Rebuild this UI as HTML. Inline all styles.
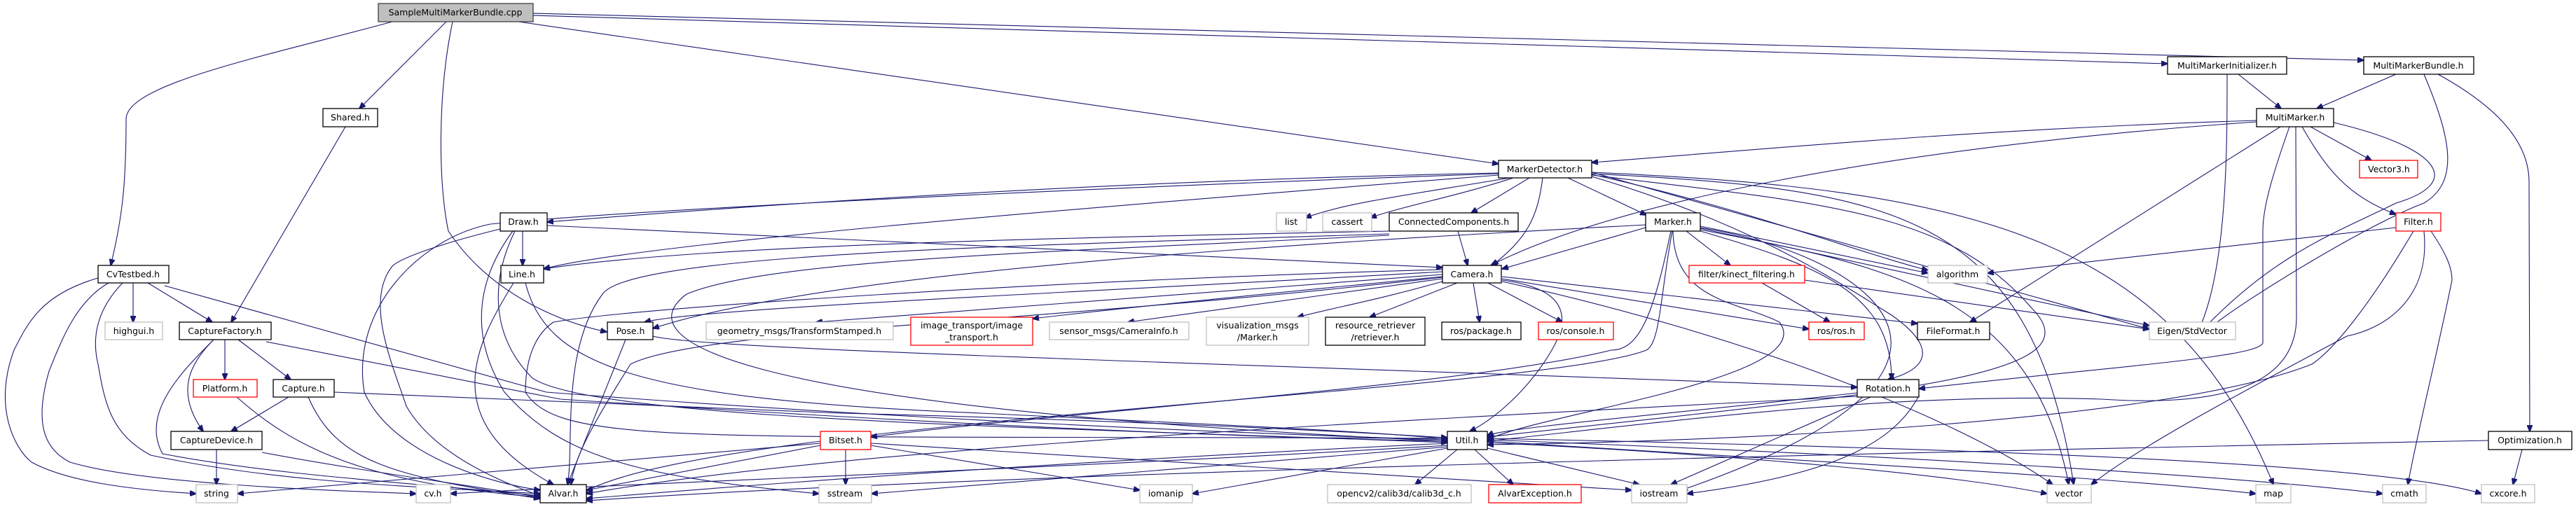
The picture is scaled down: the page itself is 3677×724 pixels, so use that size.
<!DOCTYPE html>
<html><head><meta charset="utf-8"><style>
html,body{margin:0;padding:0;background:#fff}
svg{display:block}
text{font-family:"DejaVu Sans","Liberation Sans",sans-serif;font-size:12.5px;fill:#000;text-anchor:middle}
.b{fill:#fff;stroke:#000;stroke-width:1.3}
.g{fill:#fff;stroke:#bfbfbf;stroke-width:1.3}
.r{fill:#fff;stroke:#ff0000;stroke-width:1.3}
.e path{fill:none;stroke:#191970;stroke-width:1.1}
</style></head><body>
<svg width="3677" height="724" viewBox="0 0 3677 724" xmlns="http://www.w3.org/2000/svg">
<defs><marker id="a" markerWidth="10" markerHeight="8" refX="9" refY="4" orient="auto" markerUnits="userSpaceOnUse"><path d="M0,0 L10,4 L0,8 z" fill="#191970" stroke="#191970"/></marker></defs>
<g class="e" marker-end="url(#a)">
<!-- Sample -->
<path marker-end="url(#a)" d="M560,31 C380,80 180,120 180,170 C180,260 175,310 158,379"/>
<path marker-end="url(#a)" d="M637,31 L513,155"/>
<path marker-end="url(#a)" d="M646,31 C625,130 625,260 640,330 C700,420 800,460 866,474"/>
<path marker-end="url(#a)" d="M740,31 L2139,234"/>
<path marker-end="url(#a)" d="M761,22 L3094,91"/>
<path marker-end="url(#a)" d="M761,19 L3374,86"/>
<!-- Shared -->
<path marker-end="url(#a)" d="M493,181 L330,460"/>
<!-- CvTestbed -->
<path marker-end="url(#a)" d="M190,404 L190,460"/>
<path marker-end="url(#a)" d="M211,404 L303,460"/>
<path marker-end="url(#a)" d="M140,397 C60,420 40,460 20,500 C-10,580 20,640 45,660 C100,690 200,700 280,705"/>
<path marker-end="url(#a)" d="M155,404 C110,430 90,480 70,530 C50,600 60,640 100,660 C200,690 450,700 594,705"/>
<path marker-end="url(#a)" d="M175,404 C140,440 130,480 140,520 C150,580 160,620 215,650 C400,690 600,695 771,705"/>
<path marker-end="url(#a)" d="M235,408 L780,560 C1300,600 1800,620 2066,628"/>
<!-- CaptureFactory -->
<path marker-end="url(#a)" d="M321,485 L321,542"/>
<path marker-end="url(#a)" d="M340,485 L415,542"/>
<path marker-end="url(#a)" d="M305,485 C270,520 250,560 290,616"/>
<path marker-end="url(#a)" d="M305,485 C260,530 200,590 232,648 C400,680 600,690 771,708"/>
<path marker-end="url(#a)" d="M380,488 L800,570 C1400,610 1800,625 2066,630"/>
<!-- Platform -->
<path marker-end="url(#a)" d="M338,567 C420,640 520,690 771,710"/>
<!-- Capture -->
<path marker-end="url(#a)" d="M412,567 L330,616"/>
<path marker-end="url(#a)" d="M440,567 C480,660 560,680 771,712"/>
<path marker-end="url(#a)" d="M477,560 L1200,590 C1600,600 1900,615 2066,625"/>
<!-- CaptureDevice -->
<path marker-end="url(#a)" d="M309,642 L309,692"/>
<path marker-end="url(#a)" d="M374,646 C500,670 650,690 771,710"/>
<!-- Draw -->
<path marker-end="url(#a)" d="M746,330 L746,379"/>
<path marker-end="url(#a)" d="M781,322 L2059,382"/>
<path marker-end="url(#a)" d="M714,327 C620,350 570,370 560,380 C520,430 560,520 580,580 C620,650 720,690 771,708"/>
<path marker-end="url(#a)" d="M732,330 C680,400 670,480 720,560 C800,650 900,680 1169,705"/>
<path marker-end="url(#a)" d="M735,330 C700,400 700,480 760,540 C850,600 1500,610 2066,632"/>
<!-- Line -->
<path marker-end="url(#a)" d="M733,404 C680,490 620,600 790,692"/>
<path marker-end="url(#a)" d="M750,404 C780,520 900,570 1400,590 C1700,605 1950,615 2066,627"/>
<!-- Pose -->
<path marker-end="url(#a)" d="M893,485 L810,692"/>
<path marker-end="url(#a)" d="M932,480 C1000,500 1800,520 2651,553"/>
<!-- MarkerDetector -->
<path marker-end="url(#a)" d="M2155,254 C2000,280 1920,290 1863,311"/>
<path marker-end="url(#a)" d="M2160,254 C2080,280 2000,295 1956,311"/>
<path marker-end="url(#a)" d="M2183,254 L2100,304"/>
<path marker-end="url(#a)" d="M2238,254 L2350,307"/>
<path marker-end="url(#a)" d="M2202,254 C2195,310 2180,340 2130,379"/>
<path marker-end="url(#a)" d="M2139,247 C1500,260 1000,300 781,317"/>
<path marker-end="url(#a)" d="M2139,248 C1500,270 900,300 700,320 C600,340 500,440 520,560 C560,650 700,690 771,700"/>
<path marker-end="url(#a)" d="M2139,250 C1500,300 900,350 776,384"/>
<path marker-end="url(#a)" d="M2272,249 C2500,300 2650,360 2752,386"/>
<path marker-end="url(#a)" d="M2272,246 L3068,470"/>
<path marker-end="url(#a)" d="M2272,252 C2500,320 2620,400 2700,450 C2800,520 2700,540 2695,542"/>
<path marker-end="url(#a)" d="M2272,248 C2700,270 2900,300 2960,692"/>
<path marker-end="url(#a)" d="M2272,246 C2800,270 3100,330 3245,692"/>
<path marker-end="url(#a)" d="M2272,250 C2600,290 2780,300 2900,440 C3000,540 2700,560 2123,624"/>
<!-- ConnectedComponents -->
<path marker-end="url(#a)" d="M2081,330 L2095,379"/>
<path marker-end="url(#a)" d="M1983,330 C1500,340 1000,350 776,384"/>
<path marker-end="url(#a)" d="M1983,334 C1500,350 900,360 860,420 C800,500 820,640 810,692"/>
<path marker-end="url(#a)" d="M1983,336 C1500,360 1100,370 980,420 C900,480 1000,580 2066,630"/>
<!-- Marker -->
<path marker-end="url(#a)" d="M2349,325 L2144,384"/>
<path marker-end="url(#a)" d="M2407,330 L2470,379"/>
<path marker-end="url(#a)" d="M2349,321 C2000,340 1200,380 932,469"/>
<path marker-end="url(#a)" d="M2385,330 C2360,450 2340,500 2300,500 C2100,550 1500,590 1243,624"/>
<path marker-end="url(#a)" d="M2387,330 C2370,420 2370,490 2350,500 C2200,560 1000,600 830,705"/>
<path marker-end="url(#a)" d="M2388,330 C2390,430 2480,430 2540,460 C2600,540 2200,590 2123,628"/>
<path marker-end="url(#a)" d="M2427,323 L2752,390"/>
<path marker-end="url(#a)" d="M2427,326 L3068,465"/>
<path marker-end="url(#a)" d="M2427,328 C2700,380 2900,420 2953,692"/>
<path marker-end="url(#a)" d="M2427,325 C2650,360 2920,520 2400,700"/>
<path marker-end="url(#a)" d="M2427,330 C2600,380 2700,420 2700,542"/>
<!-- kinect -->
<path marker-end="url(#a)" d="M2515,404 L2612,460"/>
<path marker-end="url(#a)" d="M2576,400 L3068,470"/>
<!-- Camera -->
<path marker-end="url(#a)" d="M2059,388 C1500,420 1000,440 920,460"/>
<path marker-end="url(#a)" d="M2059,392 C1700,420 1400,440 1165,460"/>
<path marker-end="url(#a)" d="M2059,395 C1800,420 1600,440 1474,455"/>
<path marker-end="url(#a)" d="M2059,398 C1900,420 1750,440 1610,460"/>
<path marker-end="url(#a)" d="M2059,402 C1960,430 1900,440 1852,453"/>
<path marker-end="url(#a)" d="M2080,404 L1955,453"/>
<path marker-end="url(#a)" d="M2103,404 L2112,460"/>
<path marker-end="url(#a)" d="M2124,404 L2230,460"/>
<path marker-end="url(#a)" d="M2144,398 L2582,470"/>
<path marker-end="url(#a)" d="M2144,395 L2737,462"/>
<path marker-end="url(#a)" d="M2144,400 C2220,410 2250,440 2215,500 C2180,560 2130,600 2098,616"/>
<path marker-end="url(#a)" d="M2059,396 C1500,460 1000,470 900,520 C850,600 820,650 815,692"/>
<path marker-end="url(#a)" d="M2144,402 C2500,480 2800,600 2930,692"/>
<path marker-end="url(#a)" d="M2059,385 C1500,400 900,440 790,460 C760,480 750,520 750,560 C800,640 1000,620 2066,626"/>
<!-- MultiMarkerInitializer -->
<path marker-end="url(#a)" d="M3195,106 L3256,155"/>
<path marker-end="url(#a)" d="M3179,106 C3179,200 3180,380 3139,470"/>
<!-- MultiMarkerBundle -->
<path marker-end="url(#a)" d="M3420,106 L3307,155"/>
<path marker-end="url(#a)" d="M3460,106 C3500,200 3510,260 3460,290 C3380,320 3200,430 3152,470"/>
<path marker-end="url(#a)" d="M3480,106 C3560,150 3610,200 3610,260 L3611,616"/>
<!-- MultiMarker -->
<path marker-end="url(#a)" d="M3221,172 C2800,185 2500,215 2272,232"/>
<path marker-end="url(#a)" d="M3221,174 C2700,210 2300,290 2128,379"/>
<path marker-end="url(#a)" d="M3298,181 L3385,229"/>
<path marker-end="url(#a)" d="M3286,181 C3320,240 3350,280 3420,306"/>
<path marker-end="url(#a)" d="M3255,181 L2812,460"/>
<path marker-end="url(#a)" d="M3331,175 C3480,210 3520,260 3420,290 C3340,330 3250,360 3145,470"/>
<path marker-end="url(#a)" d="M3268,181 C3240,260 3230,300 3230,330 L3230,490 C3220,510 3050,520 2739,555"/>
<path marker-end="url(#a)" d="M3277,181 L3278,450 C3280,560 3150,580 3000,570 C2700,560 2400,600 2123,630"/>
<!-- Filter -->
<path marker-end="url(#a)" d="M3420,325 L2837,390"/>
<path marker-end="url(#a)" d="M3445,330 C3380,440 3330,500 3300,520 C3100,600 2500,630 2123,635"/>
<path marker-end="url(#a)" d="M3460,330 C3470,430 3400,470 3350,480 C3200,560 3050,640 2985,692"/>
<path marker-end="url(#a)" d="M3470,330 C3490,360 3500,380 3500,400 C3480,500 3450,620 3437,692"/>
<!-- Rotation -->
<path marker-end="url(#a)" d="M2651,561 C2400,590 2150,610 2123,622"/>
<path marker-end="url(#a)" d="M2670,567 L2385,692"/>
<path marker-end="url(#a)" d="M2739,565 C2700,640 2600,680 2408,705"/>
<path marker-end="url(#a)" d="M2651,566 C2000,600 1200,640 837,705"/>
<!-- Bitset -->
<path marker-end="url(#a)" d="M1207,642 L1207,692"/>
<path marker-end="url(#a)" d="M1243,636 L1627,700"/>
<path marker-end="url(#a)" d="M1171,636 L837,700"/>
<path marker-end="url(#a)" d="M1171,633 L339,705"/>
<path marker-end="url(#a)" d="M1243,633 L2329,700"/>
<!-- Util -->
<path marker-end="url(#a)" d="M2066,633 C1500,660 1100,690 837,712"/>
<path marker-end="url(#a)" d="M2066,636 C1500,670 900,690 643,705"/>
<path marker-end="url(#a)" d="M2066,638 L1244,705"/>
<path marker-end="url(#a)" d="M2066,640 L1702,705"/>
<path marker-end="url(#a)" d="M2080,642 L2020,692"/>
<path marker-end="url(#a)" d="M2105,642 L2160,692"/>
<path marker-end="url(#a)" d="M2123,640 L2340,692"/>
<path marker-end="url(#a)" d="M2123,632 C2500,650 2800,680 2922,705"/>
<path marker-end="url(#a)" d="M2123,630 C2600,660 3000,680 3220,705"/>
<path marker-end="url(#a)" d="M2123,628 C2700,650 3200,680 3401,705"/>
<path marker-end="url(#a)" d="M2123,626 C2800,640 3400,660 3542,705"/>
<!-- Optimization -->
<path marker-end="url(#a)" d="M3600,642 L3587,692"/>
<path marker-end="url(#a)" d="M3552,629 C3000,640 1500,670 837,715"/>
</g>
<!-- nodes -->
<rect x="540" y="5" width="221" height="26" fill="#bfbfbf" stroke="#404040" stroke-width="1.3"/><text x="650" y="22">SampleMultiMarkerBundle.cpp</text>
<rect class="b" x="3094" y="81" width="170" height="25"/><text x="3179" y="98">MultiMarkerInitializer.h</text>
<rect class="b" x="3374" y="81" width="157" height="25"/><text x="3452" y="98">MultiMarkerBundle.h</text>
<rect class="b" x="461" y="155" width="78" height="26"/><text x="500" y="172">Shared.h</text>
<rect class="b" x="3221" y="155" width="110" height="26"/><text x="3276" y="172">MultiMarker.h</text>
<rect class="b" x="2139" y="229" width="133" height="25"/><text x="2205" y="246">MarkerDetector.h</text>
<rect class="r" x="3368" y="229" width="83" height="25"/><text x="3410" y="246">Vector3.h</text>
<rect class="b" x="714" y="304" width="67" height="26"/><text x="747" y="321">Draw.h</text>
<rect class="g" x="1822" y="304" width="43" height="26"/><text x="1843" y="321">list</text>
<rect class="g" x="1888" y="304" width="70" height="26"/><text x="1923" y="321">cassert</text>
<rect class="b" x="1983" y="304" width="184" height="26"/><text x="2075" y="321">ConnectedComponents.h</text>
<rect class="b" x="2349" y="304" width="78" height="26"/><text x="2388" y="321">Marker.h</text>
<rect class="r" x="3420" y="304" width="64" height="26"/><text x="3452" y="321">Filter.h</text>
<rect class="b" x="140" y="379" width="101" height="25"/><text x="190" y="396">CvTestbed.h</text>
<rect class="b" x="715" y="379" width="61" height="25"/><text x="745" y="396">Line.h</text>
<rect class="b" x="2059" y="379" width="84" height="25"/><text x="2101" y="396">Camera.h</text>
<rect class="r" x="2411" y="379" width="165" height="25"/><text x="2493" y="396">filter/kinect_filtering.h</text>
<rect class="g" x="2752" y="379" width="85" height="25"/><text x="2794" y="396">algorithm</text>
<rect class="g" x="150" y="460" width="82" height="25"/><text x="191" y="477">highgui.h</text>
<rect class="b" x="256" y="460" width="131" height="25"/><text x="321" y="477">CaptureFactory.h</text>
<rect class="b" x="867" y="460" width="65" height="25"/><text x="900" y="477">Pose.h</text>
<rect class="g" x="1008" y="460" width="267" height="25"/><text x="1141" y="477">geometry_msgs/TransformStamped.h</text>
<rect class="r" x="1300" y="453" width="174" height="40"/><text x="1387" y="469">image_transport/image</text><text x="1387" y="486">_transport.h</text>
<rect class="g" x="1498" y="460" width="199" height="25"/><text x="1597" y="477">sensor_msgs/CameraInfo.h</text>
<rect class="g" x="1722" y="453" width="146" height="40"/><text x="1795" y="469">visualization_msgs</text><text x="1795" y="486">/Marker.h</text>
<rect class="b" x="1892" y="453" width="142" height="40"/><text x="1963" y="469">resource_retriever</text><text x="1963" y="486">/retriever.h</text>
<rect class="b" x="2058" y="460" width="113" height="25"/><text x="2114" y="477">ros/package.h</text>
<rect class="r" x="2196" y="460" width="107" height="25"/><text x="2249" y="477">ros/console.h</text>
<rect class="r" x="2582" y="460" width="79" height="25"/><text x="2621" y="477">ros/ros.h</text>
<rect class="b" x="2737" y="460" width="103" height="25"/><text x="2788" y="477">FileFormat.h</text>
<rect class="g" x="3068" y="460" width="123" height="25"/><text x="3129" y="477">Eigen/StdVector</text>
<rect class="r" x="276" y="542" width="91" height="25"/><text x="321" y="559">Platform.h</text>
<rect class="b" x="390" y="542" width="87" height="25"/><text x="433" y="559">Capture.h</text>
<rect class="b" x="2651" y="542" width="88" height="25"/><text x="2695" y="559">Rotation.h</text>
<rect class="b" x="244" y="616" width="130" height="26"/><text x="309" y="633">CaptureDevice.h</text>
<rect class="r" x="1171" y="616" width="72" height="26"/><text x="1207" y="633">Bitset.h</text>
<rect class="b" x="2066" y="616" width="57" height="26"/><text x="2094" y="633">Util.h</text>
<rect class="b" x="3552" y="616" width="119" height="26"/><text x="3611" y="633">Optimization.h</text>
<rect class="g" x="280" y="692" width="59" height="26"/><text x="309" y="709">string</text>
<rect class="g" x="594" y="692" width="49" height="26"/><text x="618" y="709">cv.h</text>
<rect class="b" x="771" y="692" width="66" height="26"/><text x="804" y="709">Alvar.h</text>
<rect class="g" x="1169" y="692" width="75" height="26"/><text x="1206" y="709">sstream</text>
<rect class="g" x="1627" y="692" width="75" height="26"/><text x="1664" y="709">iomanip</text>
<rect class="g" x="1895" y="692" width="205" height="26"/><text x="1997" y="709">opencv2/calib3d/calib3d_c.h</text>
<rect class="r" x="2125" y="692" width="132" height="26"/><text x="2191" y="709">AlvarException.h</text>
<rect class="g" x="2329" y="692" width="79" height="26"/><text x="2368" y="709">iostream</text>
<rect class="g" x="2922" y="692" width="63" height="26"/><text x="2953" y="709">vector</text>
<rect class="g" x="3220" y="692" width="50" height="26"/><text x="3245" y="709">map</text>
<rect class="g" x="3401" y="692" width="62" height="26"/><text x="3432" y="709">cmath</text>
<rect class="g" x="3542" y="692" width="76" height="26"/><text x="3580" y="709">cxcore.h</text>
</svg>
</body></html>
